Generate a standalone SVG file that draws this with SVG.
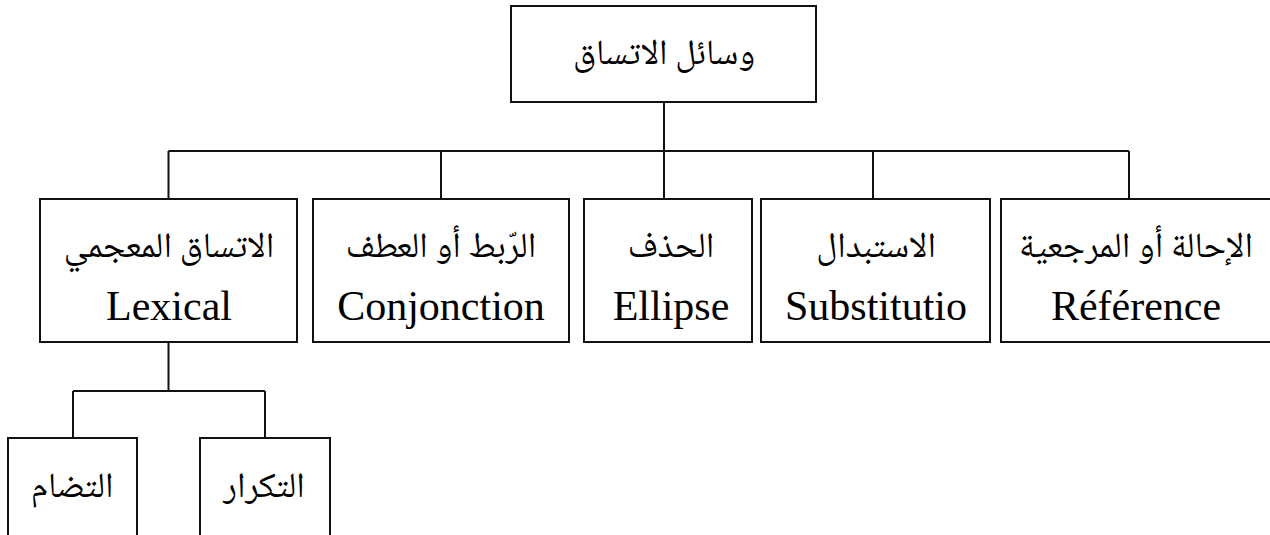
<svg xmlns="http://www.w3.org/2000/svg" width="1270" height="535" viewBox="0 0 1270 535">
<style>
.box{fill:#fff;stroke:#111;stroke-width:2}
.ln{fill:none;stroke:#111;stroke-width:2}
.ar{font-family:"Noto Naskh Arabic","Noto Sans Arabic","DejaVu Sans",serif;font-size:35.5px;fill:#000;text-anchor:middle}
.la{font-family:"Liberation Serif","Times New Roman",serif;font-size:42px;fill:#000;text-anchor:middle}
</style>
<rect width="1270" height="535" fill="#fff"/>
<g id="connectors" class="ln">
<path d="M664 102V151"/>
<path d="M168.5 151H1129"/>
<path d="M168.5 151V199M441 151V199M664 151V199M873 151V199M1129 151V199"/>
<path d="M168.5 342V391"/>
<path d="M73 391H265"/>
<path d="M73 391V438M265 391V438"/>
</g>
<g id="root"><rect class="box" x="511" y="6" width="305" height="96"/><text class="ar" x="664" y="64">وسائل الاتساق</text></g>
<g id="lexical"><rect class="box" x="40" y="199" width="257" height="143"/><text class="ar" x="169" y="257">الاتساق المعجمي</text><text class="la" x="169" y="320">Lexical</text></g>
<g id="conjonction"><rect class="box" x="313" y="199" width="256" height="143"/><text class="ar" x="441" y="257">الرّبط أو العطف</text><text class="la" x="441" y="320">Conjonction</text></g>
<g id="ellipse"><rect class="box" x="584" y="199" width="168" height="143"/><text class="ar" x="671" y="257">الحذف</text><text class="la" x="671" y="320">Ellipse</text></g>
<g id="substitution"><rect class="box" x="761" y="199" width="229" height="143"/><text class="ar" x="876" y="257">الاستبدال</text><text class="la" x="876" y="320">Substitutio</text></g>
<g id="reference"><rect class="box" x="1001" y="199" width="280" height="143"/><text class="ar" x="1136" y="257">الإحالة أو المرجعية</text><text class="la" x="1136" y="320">Référence</text></g>
<g id="tadam"><rect class="box" x="8" y="438" width="129" height="110"/><text class="ar" x="72" y="497">التضام</text></g>
<g id="takrar"><rect class="box" x="200" y="438" width="130" height="110"/><text class="ar" x="264" y="497">التكرار</text></g>
</svg>
